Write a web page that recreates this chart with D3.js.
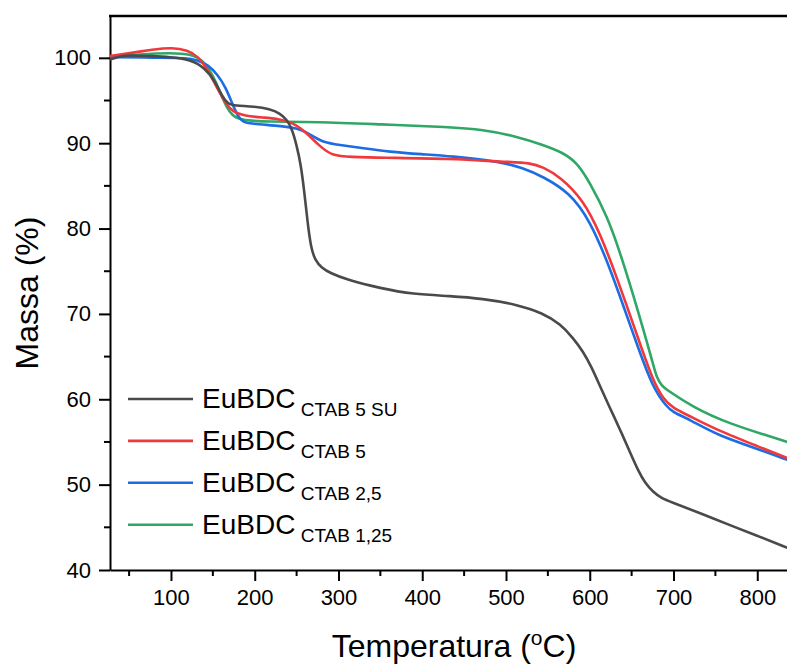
<!DOCTYPE html>
<html lang="pt">
  <head>
    <meta charset="utf-8" />
    <title>TGA – EuBDC CTAB</title>
    <script src="https://d3js.org/d3.v7.min.js"></script>
    <style>
      body {
        margin: 0;
        background: #fff;
        font-family: Arial, "Liberation Sans", sans-serif;
      }
      svg {
        display: block;
      }
      .axis path,
      .axis line {
        stroke: #000;
        stroke-width: 2;
      }
      .axis text {
        font-size: 22px;
        fill: #000;
      }
      .curve {
        fill: none;
        stroke-width: 2.6;
        stroke-linejoin: round;
      }
    </style>
  </head>
  <body>
    <div id="chart"></div>
    <script>
      /* ----------------------------- DATA ----------------------------- */
      // [temperature °C, mass %]
      const massSU5 = [
        [27, 99.8], [40, 100.2], [51, 100.3], [75, 100.2], [99, 100.1],
        [123, 99.8], [141, 98.8], [153, 97.2], [161, 95.5], [168, 94.6],
        [176, 94.4], [200, 94.3], [218, 94.0], [230, 93.5], [238, 92.8],
        [244, 91.8], [250, 89.8], [255, 87.5], [259, 84.5], [263, 80.8],
        [267, 77.8], [272, 76.3], [280, 75.4], [290, 74.8], [310, 74.0],
        [350, 73.0], [389, 72.3], [433, 72.1], [472, 71.8], [513, 71.1],
        [544, 70.1], [565, 68.8], [580, 67.2], [592, 65.6], [602, 63.8],
        [612, 61.6], [624, 59.0], [636, 56.5], [648, 53.8], [658, 51.6],
        [666, 50.2], [676, 49.1], [686, 48.4], [696, 48.0], [731, 46.7],
        [771, 45.1], [803, 43.9], [836, 42.6]
      ];
      const massCTAB5 = [
        [27, 100.2], [40, 100.4], [61, 100.7], [80, 101.0], [101, 101.2],
        [120, 100.9], [132, 100.2], [144, 98.6], [156, 96.3], [165, 94.7],
        [173, 93.7], [188, 93.2], [210, 93.0], [226, 92.9], [246, 92.4],
        [262, 91.2], [278, 89.6], [293, 88.5], [314, 88.4], [350, 88.3],
        [433, 88.2], [500, 87.8], [529, 87.7], [544, 87.2], [564, 86.1],
        [592, 83.4], [612, 79.5], [632, 74.4], [660, 66.5], [675, 62.3],
        [688, 60.0], [699, 59.0], [720, 58.0], [752, 56.4], [803, 54.4],
        [836, 53.1]
      ];
      const massCTAB25 = [
        [27, 100.1], [81, 100.0], [120, 100.0], [132, 99.7], [144, 99.2],
        [156, 98.0], [165, 96.6], [173, 94.7], [180, 93.1], [186, 92.5],
        [194, 92.3], [234, 92.0], [254, 91.7], [270, 90.8], [282, 90.1],
        [300, 89.8], [330, 89.4], [360, 89.0], [400, 88.7], [433, 88.5],
        [493, 87.85], [520, 87.1], [544, 86.1], [576, 84.2], [600, 81.0],
        [624, 75.5], [656, 66.5], [675, 61.4], [692, 59.1], [699, 58.5],
        [720, 57.6], [752, 55.8], [803, 54.1], [836, 52.9]
      ];
      const massCTAB125 = [
        [27, 100.1], [61, 100.4], [101, 100.6], [125, 100.4], [137, 99.8],
        [149, 98.2], [159, 95.9], [167, 94.1], [173, 93.3], [182, 92.7],
        [215, 92.5], [274, 92.5], [350, 92.2], [433, 91.9], [472, 91.6],
        [513, 90.8], [544, 89.8], [568, 88.9], [585, 87.7], [600, 85.4],
        [621, 81.4], [636, 77.3], [660, 69.6], [676, 64.0], [680, 62.5],
        [686, 61.6], [692, 61.1], [723, 59.1], [764, 57.2], [836, 55.0]
      ];

      const seriesNames = ['CTAB 5 SU', 'CTAB 5', 'CTAB 2,5', 'CTAB 1,25'];
      const seriesColors = ['#4a4a4a', '#f0393d', '#1c6de3', '#30a766'];
      const seriesData = [massSU5, massCTAB5, massCTAB25, massCTAB125];

      const xMajor = [100, 200, 300, 400, 500, 600, 700, 800];
      const xMinor = [50, 150, 250, 350, 450, 550, 650, 750];
      const yMajor = [40, 50, 60, 70, 80, 90, 100];
      const yMinor = [45, 55, 65, 75, 85, 95];

      /* ---------------------------- LAYOUT ---------------------------- */
      const W = 787,
        H = 666,
        m = { t: 16, r: 0, b: 96, l: 110 };

      const svg = d3
        .select('#chart')
        .append('svg')
        .attr('width', W)
        .attr('height', H);

      const x = d3.scaleLinear().domain([27.2, 835.5]).range([m.l, W - m.r]);
      const y = d3.scaleLinear().domain([40, 104.9]).range([H - m.b, m.t]);

      /* ----------------------------- AXES ----------------------------- */
      const xAxis = svg
        .append('g')
        .attr('class', 'axis')
        .attr('transform', `translate(0,${H - m.b})`);
      xAxis.call(
        d3.axisBottom(x).tickValues(xMajor).tickSize(11).tickSizeOuter(0).tickPadding(8)
      );
      xAxis
        .append('g')
        .selectAll('line')
        .data(xMinor)
        .join('line')
        .attr('x1', (d) => x(d))
        .attr('x2', (d) => x(d))
        .attr('y1', 0)
        .attr('y2', 6);

      const yAxis = svg
        .append('g')
        .attr('class', 'axis')
        .attr('transform', `translate(${m.l},0)`);
      yAxis.call(
        d3.axisLeft(y).tickValues(yMajor).tickSize(11).tickSizeOuter(0).tickPadding(8)
      );
      yAxis
        .append('g')
        .selectAll('line')
        .data(yMinor)
        .join('line')
        .attr('x1', 0)
        .attr('x2', -6)
        .attr('y1', (d) => y(d))
        .attr('y2', (d) => y(d));

      // top frame line
      svg
        .append('line')
        .attr('x1', m.l - 1)
        .attr('x2', W)
        .attr('y1', m.t)
        .attr('y2', m.t)
        .attr('stroke', '#000')
        .attr('stroke-width', 2.5);

      /* ---------------------------- CURVES ---------------------------- */
      const line = d3
        .line()
        .x((d) => x(d[0]))
        .y((d) => y(d[1]))
        .curve(d3.curveBasis);

      svg
        .append('defs')
        .append('clipPath')
        .attr('id', 'plot')
        .append('rect')
        .attr('x', m.l)
        .attr('y', m.t)
        .attr('width', W - m.l)
        .attr('height', H - m.b - m.t);

      svg
        .append('g')
        .attr('clip-path', 'url(#plot)')
        .selectAll('path')
        .data(seriesData.slice().reverse())
        .join('path')
        .attr('class', 'curve')
        .attr('stroke', (d, i) => seriesColors[3 - i])
        .attr('stroke-width', (d, i) => (i === 3 ? 3 : 2.6))
        .attr('d', line);

      /* ---------------------------- LEGEND ---------------------------- */
      const legend = svg
        .append('g')
        .attr('transform', 'translate(128,399)');

      const row = legend
        .selectAll('g')
        .data(seriesNames)
        .join('g')
        .attr('transform', (d, i) => `translate(0,${i * 41.9})`);

      row
        .append('line')
        .attr('x1', 0)
        .attr('x2', 65)
        .attr('stroke', (d, i) => seriesColors[i])
        .attr('stroke-width', 2.6);

      const label = row
        .append('text')
        .attr('x', 74)
        .attr('y', 9)
        .attr('fill', '#000');
      label.append('tspan').attr('font-size', 28).text('EuBDC');
      label
        .append('tspan')
        .attr('font-size', 19)
        .attr('dy', 8)
        .text((d) => ' ' + d);

      /* ------------------------- AXIS TITLES -------------------------- */
      svg
        .append('text')
        .attr('transform', `translate(38,${(m.t + H - m.b) / 2}) rotate(-90)`)
        .attr('text-anchor', 'middle')
        .attr('font-size', 32)
        .text('Massa (%)');

      const xt = svg
        .append('text')
        .attr('x', 454)
        .attr('y', 657)
        .attr('text-anchor', 'middle')
        .attr('font-size', 32);
      xt.append('tspan').text('Temperatura (');
      xt.append('tspan').attr('font-size', 21).attr('dy', -12).text('o');
      xt.append('tspan').attr('dy', 12).text('C)');
    </script>
  </body>
</html>
